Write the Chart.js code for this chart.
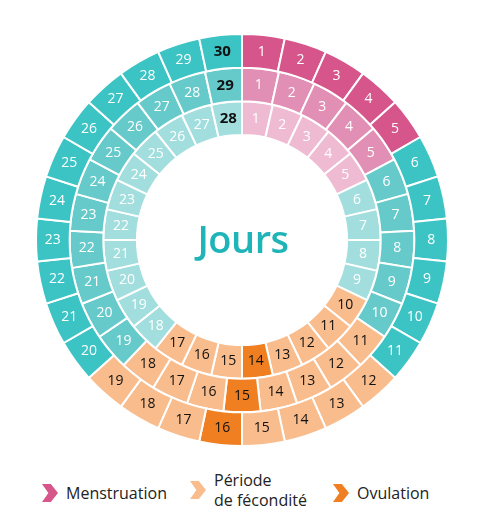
<!DOCTYPE html>
<html><head><meta charset="utf-8">
<script src="https://cdn.jsdelivr.net/npm/chart.js@4/dist/chart.umd.min.js"></script>
<style>
body{margin:0;background:#fff;font-family:"Open Sans",sans-serif;}
#wrap{position:absolute;left:35px;top:33px;width:414px;height:414px;}
#center{position:absolute;left:0;top:212px;width:486px;text-align:center;font-size:38px;font-weight:600;color:#1fb5b8;line-height:52px;letter-spacing:-0.5px;}
.leg{position:absolute;top:470px;display:flex;align-items:center;font-size:16px;color:#222;}
.chev{width:16px;height:18px;clip-path:polygon(0 0,55% 0,100% 50%,55% 100%,0 100%,40% 50%);margin-right:8px;}
</style></head><body>
<div id="wrap"><canvas id="c"></canvas></div>
<div id="center">Jours</div>
<div class="leg" style="left:42px;top:482px"><div class="chev" style="background:#d6558a"></div>Menstruation</div>
<div class="leg" style="left:190px;line-height:20px"><div class="chev" style="background:#f9bc8c"></div><div>Période<br>de fécondité</div></div>
<div class="leg" style="left:333px;top:482px"><div class="chev" style="background:#f07f22"></div>Ovulation</div>
<script>
const cycleLengths = [30, 29, 28];
const menstruationDays = [5, 5, 5];
const fertileStart = [12, 11, 10];
const ovulationDay = [16, 15, 14];
const fertileEnd = [19, 18, 17];
const pinkColors = ['#d6558a', '#e28fb5', '#efbbd3'];
const tealColors = ['#3cc3c4', '#66c9ca', '#a3dede'];
const fertileColor = '#f9bc8c', ovulationColor = '#f07f22';

const datasets = cycleLengths.map((n, r) => {
  const days = Array.from({length:n}, (_, i) => i + 1);
  return {
    data: days.map(() => 1),
    days,
    backgroundColor: days.map(d => d <= menstruationDays[r] ? pinkColors[r] :
      d === ovulationDay[r] ? ovulationColor :
      (d >= fertileStart[r] && d <= fertileEnd[r]) ? fertileColor : tealColors[r]),
    borderColor: '#fff', borderWidth: 2
  };
});

const labelPlugin = {
  id: 'labels',
  afterDatasetsDraw(chart) {
    const ctx = chart.ctx;
    chart.data.datasets.forEach((ds, r) => {
      chart.getDatasetMeta(r).data.forEach((arc, i) => {
        const d = ds.days[i];
        const p = arc.getCenterPoint();
        const fertile = d >= fertileStart[r] && d <= fertileEnd[r];
        const last = d === cycleLengths[r];
        ctx.save();
        ctx.fillStyle = (fertile || last) ? '#111' : '#fff';
        ctx.font = (last ? 'bold 15px' : '14px') + ' "Open Sans", sans-serif';
        ctx.textAlign = 'center'; ctx.textBaseline = 'middle';
        ctx.fillText(String(d), p.x, p.y);
        ctx.restore();
      });
    });
  }
};

new Chart(document.getElementById('c'), {
  type: 'doughnut',
  data: { labels: Array.from({length:30}, (_, i) => String(i + 1)), datasets },
  options: {
    responsive: true, maintainAspectRatio: false, animation: false,
    cutout: '51%', layout: { padding: 0 },
    plugins: { legend: { display: false }, tooltip: { enabled: false } }
  },
  plugins: [labelPlugin]
});
</script>
</body></html>
